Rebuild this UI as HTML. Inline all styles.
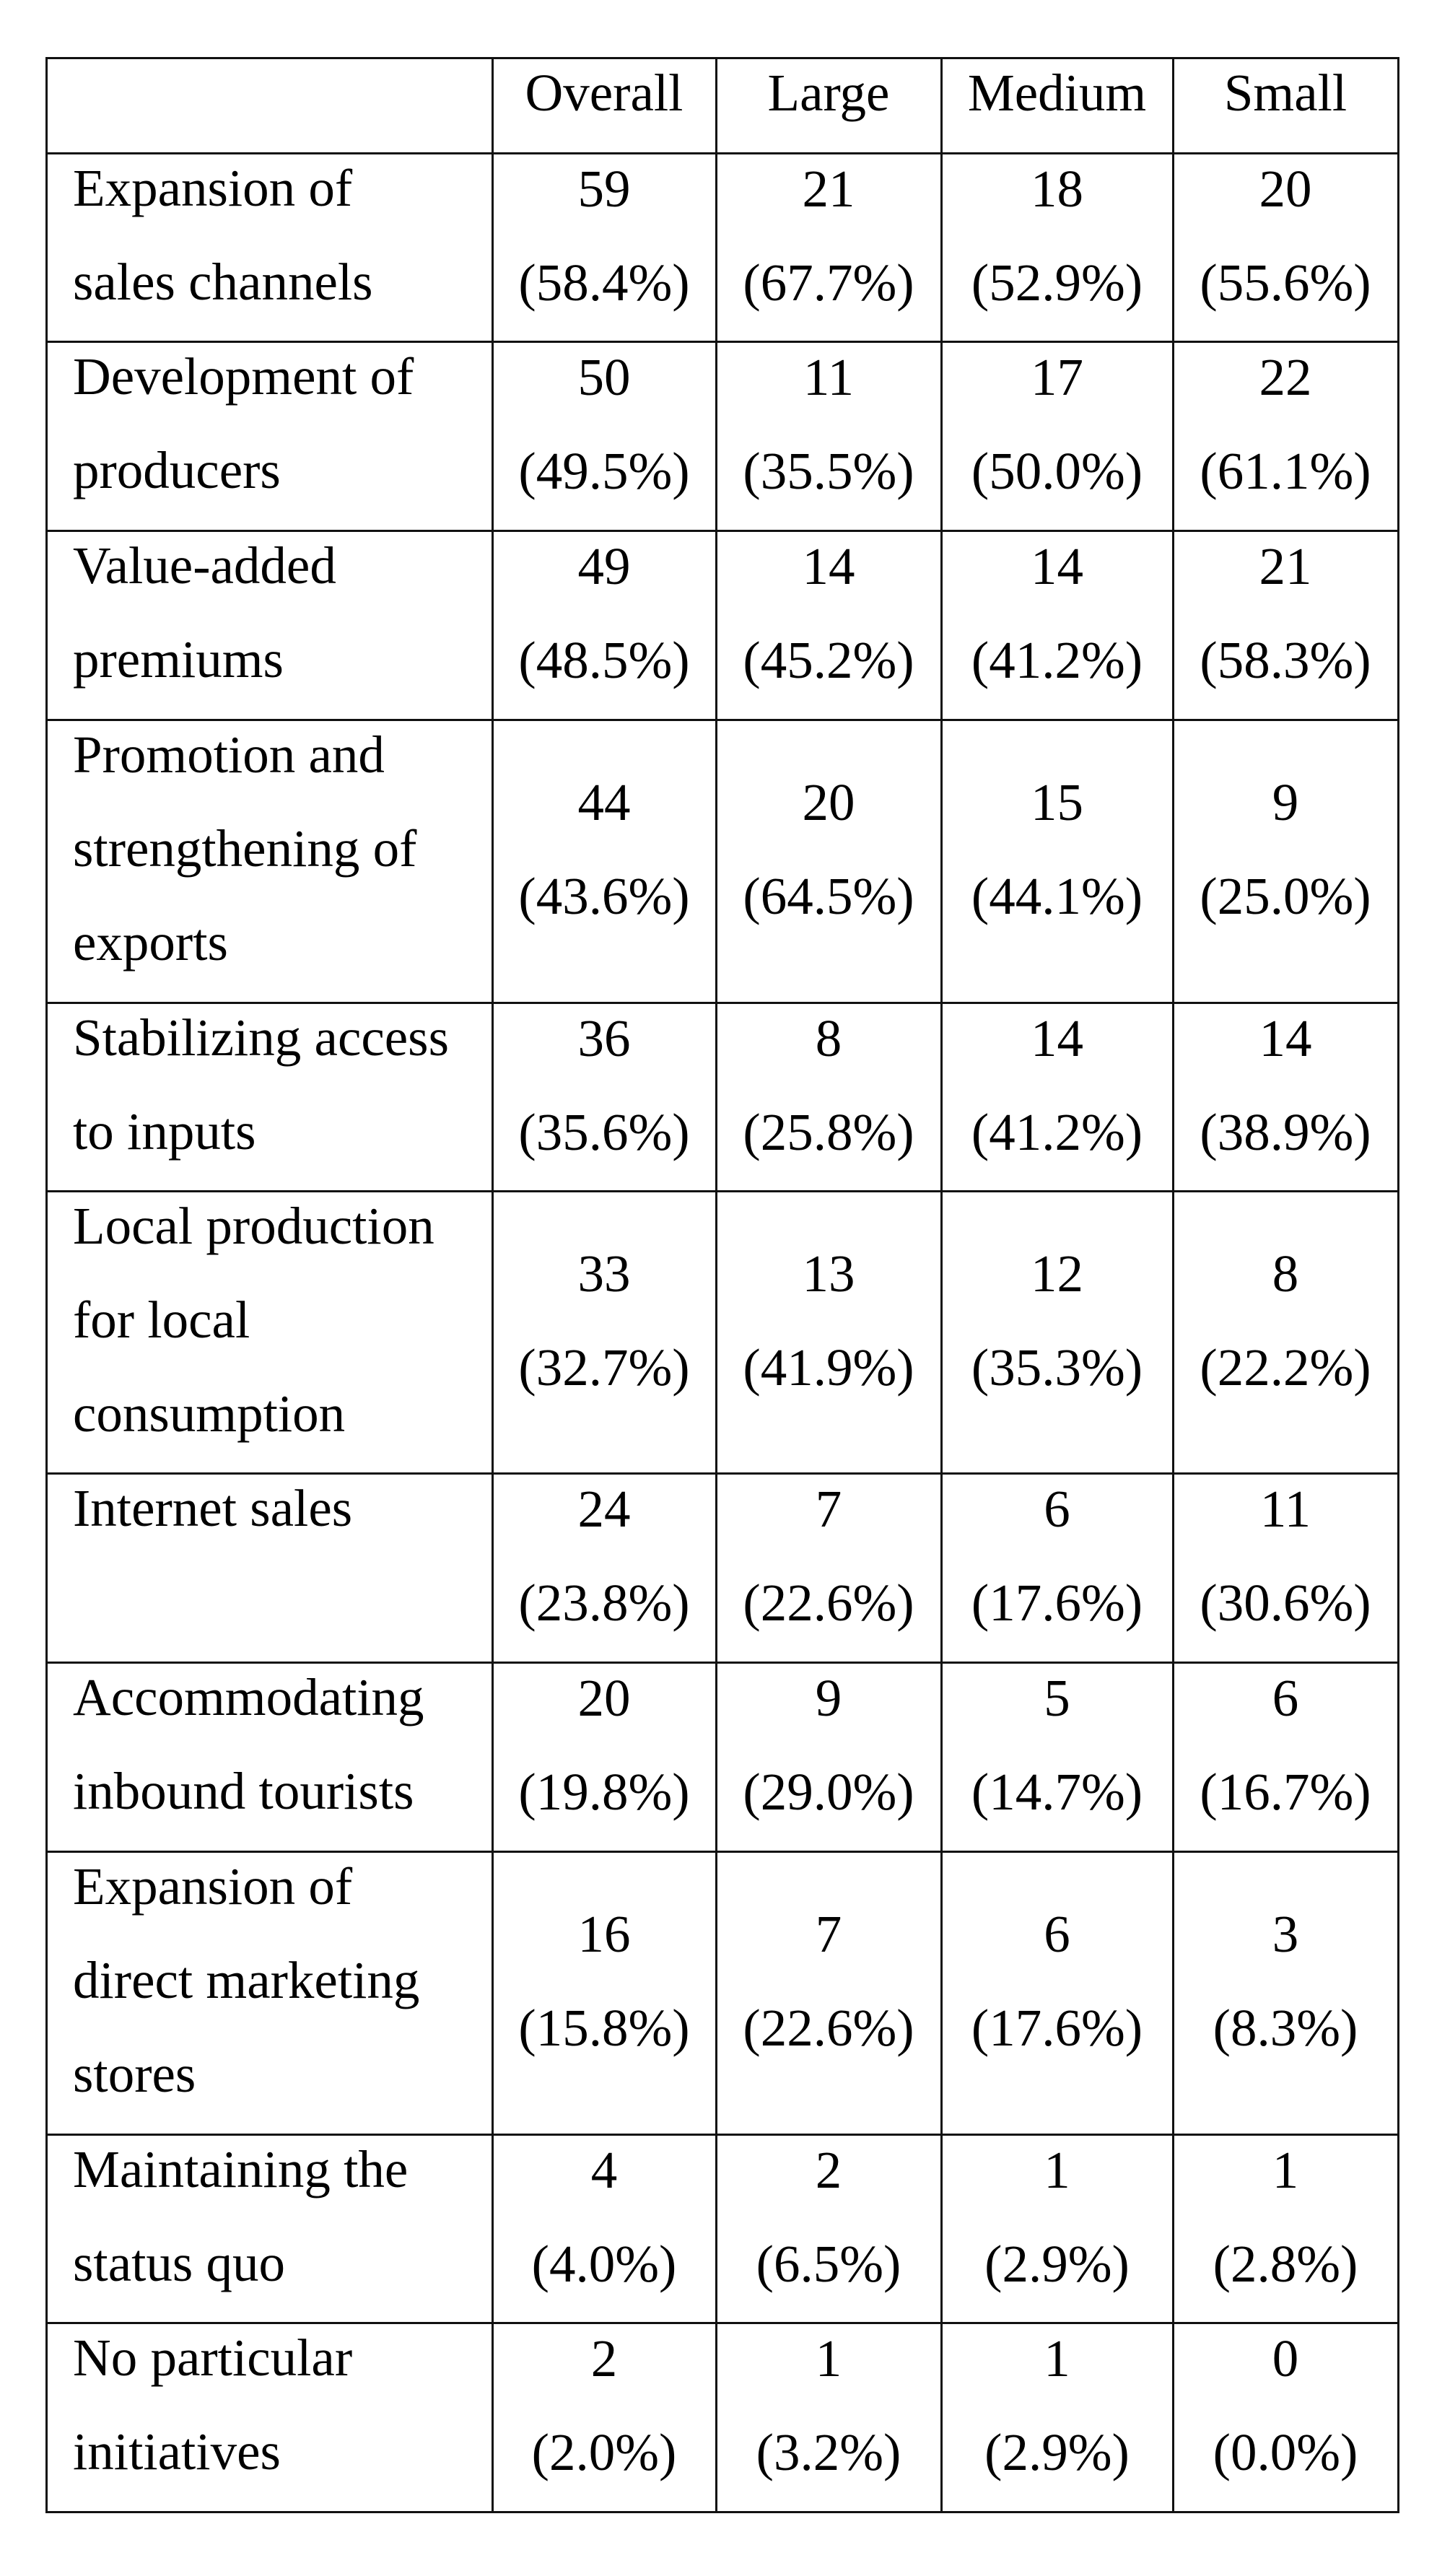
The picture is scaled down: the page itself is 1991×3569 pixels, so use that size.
<!DOCTYPE html>
<html><head><meta charset="utf-8"><style>
html,body{margin:0;padding:0;background:#fff;}
body{width:1991px;height:3569px;position:relative;overflow:hidden;font-family:"Liberation Serif","Times New Roman",serif;font-size:73px;color:#000;}
.r{position:absolute;left:64px;width:1873px;}
.c{position:absolute;top:0;bottom:0;display:flex;align-items:center;justify-content:center;text-align:center;line-height:130px;white-space:nowrap;}
.c div{position:relative;top:-16px;}
.c.l{justify-content:flex-start;align-items:flex-start;text-align:left;padding-left:37px;}
.c.h{align-items:flex-start;}
.c0{left:0;width:618px;}
.c1{left:618px;width:310px;}
.c2{left:928px;width:312px;}
.c3{left:1240px;width:321px;}
.c4{left:1561px;width:312px;}
.hl{position:absolute;left:63px;width:1876px;height:3px;background:#111;}
.vl{position:absolute;top:79px;height:3403px;width:3px;background:#111;}
</style></head><body>
<div class="hl" style="top:79px"></div>
<div class="hl" style="top:211px"></div>
<div class="hl" style="top:472px"></div>
<div class="hl" style="top:734px"></div>
<div class="hl" style="top:996px"></div>
<div class="hl" style="top:1388px"></div>
<div class="hl" style="top:1649px"></div>
<div class="hl" style="top:2040px"></div>
<div class="hl" style="top:2302px"></div>
<div class="hl" style="top:2564px"></div>
<div class="hl" style="top:2956px"></div>
<div class="hl" style="top:3217px"></div>
<div class="hl" style="top:3479px"></div>
<div class="vl" style="left:63px"></div>
<div class="vl" style="left:681px"></div>
<div class="vl" style="left:991px"></div>
<div class="vl" style="left:1303px"></div>
<div class="vl" style="left:1624px"></div>
<div class="vl" style="left:1936px"></div>

<div class="r" style="top:80px;height:132px"><div class="c c1 h"><div>Overall</div></div><div class="c c2 h"><div>Large</div></div><div class="c c3 h"><div>Medium</div></div><div class="c c4 h"><div>Small</div></div></div>

<div class="r" style="top:212px;height:261px"><div class="c c0 l"><div>Expansion of<br>sales channels</div></div><div class="c c1"><div>59<br>(58.4%)</div></div><div class="c c2"><div>21<br>(67.7%)</div></div><div class="c c3"><div>18<br>(52.9%)</div></div><div class="c c4"><div>20<br>(55.6%)</div></div></div>

<div class="r" style="top:473px;height:262px"><div class="c c0 l"><div>Development of<br>producers</div></div><div class="c c1"><div>50<br>(49.5%)</div></div><div class="c c2"><div>11<br>(35.5%)</div></div><div class="c c3"><div>17<br>(50.0%)</div></div><div class="c c4"><div>22<br>(61.1%)</div></div></div>

<div class="r" style="top:735px;height:262px"><div class="c c0 l"><div>Value-added<br>premiums</div></div><div class="c c1"><div>49<br>(48.5%)</div></div><div class="c c2"><div>14<br>(45.2%)</div></div><div class="c c3"><div>14<br>(41.2%)</div></div><div class="c c4"><div>21<br>(58.3%)</div></div></div>

<div class="r" style="top:997px;height:392px"><div class="c c0 l"><div>Promotion and<br>strengthening of<br>exports</div></div><div class="c c1"><div>44<br>(43.6%)</div></div><div class="c c2"><div>20<br>(64.5%)</div></div><div class="c c3"><div>15<br>(44.1%)</div></div><div class="c c4"><div>9<br>(25.0%)</div></div></div>

<div class="r" style="top:1389px;height:261px"><div class="c c0 l"><div>Stabilizing access<br>to inputs</div></div><div class="c c1"><div>36<br>(35.6%)</div></div><div class="c c2"><div>8<br>(25.8%)</div></div><div class="c c3"><div>14<br>(41.2%)</div></div><div class="c c4"><div>14<br>(38.9%)</div></div></div>

<div class="r" style="top:1650px;height:391px"><div class="c c0 l"><div>Local production<br>for local<br>consumption</div></div><div class="c c1"><div>33<br>(32.7%)</div></div><div class="c c2"><div>13<br>(41.9%)</div></div><div class="c c3"><div>12<br>(35.3%)</div></div><div class="c c4"><div>8<br>(22.2%)</div></div></div>

<div class="r" style="top:2041px;height:262px"><div class="c c0 l"><div>Internet sales</div></div><div class="c c1"><div>24<br>(23.8%)</div></div><div class="c c2"><div>7<br>(22.6%)</div></div><div class="c c3"><div>6<br>(17.6%)</div></div><div class="c c4"><div>11<br>(30.6%)</div></div></div>

<div class="r" style="top:2303px;height:262px"><div class="c c0 l"><div>Accommodating<br>inbound tourists</div></div><div class="c c1"><div>20<br>(19.8%)</div></div><div class="c c2"><div>9<br>(29.0%)</div></div><div class="c c3"><div>5<br>(14.7%)</div></div><div class="c c4"><div>6<br>(16.7%)</div></div></div>

<div class="r" style="top:2565px;height:392px"><div class="c c0 l"><div>Expansion of<br>direct marketing<br>stores</div></div><div class="c c1"><div>16<br>(15.8%)</div></div><div class="c c2"><div>7<br>(22.6%)</div></div><div class="c c3"><div>6<br>(17.6%)</div></div><div class="c c4"><div>3<br>(8.3%)</div></div></div>

<div class="r" style="top:2957px;height:261px"><div class="c c0 l"><div>Maintaining the<br>status quo</div></div><div class="c c1"><div>4<br>(4.0%)</div></div><div class="c c2"><div>2<br>(6.5%)</div></div><div class="c c3"><div>1<br>(2.9%)</div></div><div class="c c4"><div>1<br>(2.8%)</div></div></div>

<div class="r" style="top:3218px;height:262px"><div class="c c0 l"><div>No particular<br>initiatives</div></div><div class="c c1"><div>2<br>(2.0%)</div></div><div class="c c2"><div>1<br>(3.2%)</div></div><div class="c c3"><div>1<br>(2.9%)</div></div><div class="c c4"><div>0<br>(0.0%)</div></div></div>
</body></html>
